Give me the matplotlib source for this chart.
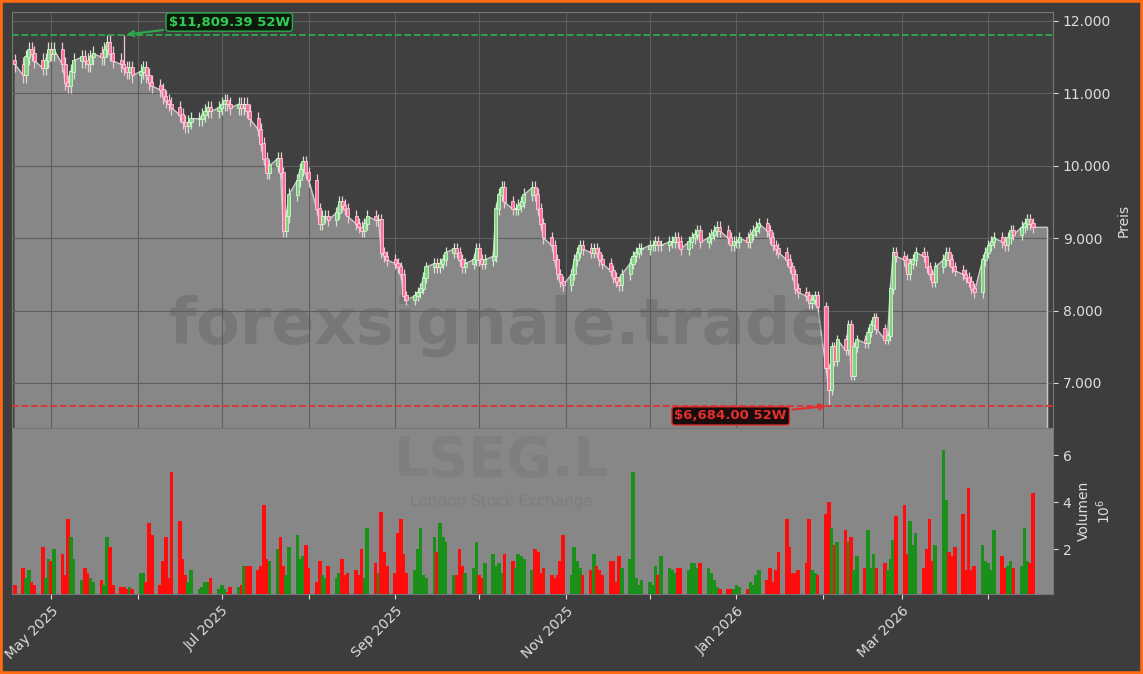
import numpy as np, pandas as pd, matplotlib
matplotlib.use("Agg")
import matplotlib.pyplot as plt
import matplotlib.dates as mdates
from matplotlib.ticker import FuncFormatter
from matplotlib.patches import Rectangle

close = [11400,11250,11500,11600,11550,11450,11350,11450,11600,
 11550,11600,11400,11150,11100,11300,11450,11500,11450,11400,11500,11550,11500,11600,11700,11550,11450,11400,11350,11300,11350,11250,
 11300,11350,11250,11150,11100,11050,10950,10900,10850,10800,10700,10600,10550,10600,10650,10650,10700,10750,10800,10750,10800,
 10850,10900,10850,10800,10850,10800,10850,10750,10650,10500,10300,10100,9900,10000,10100,9900,9100,9300,9600,9800,9950,10050,9900,
 9800,9400,9200,9300,9300,9250,9350,9500,9450,9400,9300,9200,9150,9100,9200,9300,9250,9250,8800,8750,8700,
 8650,8600,8500,8200,8150,8200,8250,8300,8450,8600,8650,8600,8650,8700,8800,8850,8800,8700,8600,8650,8700,8850,
 8700,8650,8700,8750,9400,9600,9700,9500,9400,9400,9450,9500,9600,9700,9600,9400,9200,9000,8900,8700,8500,8400,8350,
 8500,8700,8800,8900,8850,8800,8850,8800,8700,8650,8550,8450,8400,8350,8500,8650,8750,8800,8850,8850,
 8900,8900,8950,8900,8900,8950,8950,9000,8950,8850,8950,9000,9050,9100,8950,9000,9050,9100,9150,9100,9000,8900,8950,
 8950,9000,8950,9050,9100,9150,9200,9100,9000,8900,8850,8800,8700,8600,8500,8300,8250,8200,8100,8150,8200,8050,
 7200,6900,7500,7300,7600,7450,7800,7100,7500,7600,7550,7700,7800,7900,7750,7600,7650,8300,8800,8750,
 8700,8500,8650,8700,8800,8750,8600,8500,8400,8600,8700,8800,8700,8600,8550,8500,8450,8400,8300,8250,8700,8800,
 8900,8950,9000,8950,8900,9000,9100,9050,9150,9200,9250,9200,9150]

volume = [0.5,1.2,0.8,1.1,0.6,0.5,2.1,0.8,1.6,
 1.5,2.0,1.8,0.9,3.3,2.5,1.6,0.7,1.2,1.0,0.8,0.6,0.7,0.5,2.5,2.1,0.5,0.4,0.4,0.3,0.4,0.3,
 1.0,1.0,0.6,3.1,2.6,0.5,1.5,2.5,0.8,5.3,3.2,1.6,0.9,0.6,1.1,0.3,0.4,0.6,0.6,0.8,0.3,
 0.5,0.3,0.2,0.4,0.4,0.5,1.3,1.3,1.3,1.1,1.3,3.9,1.6,1.5,2.0,2.5,1.3,0.9,2.1,2.6,1.6,1.7,2.2,
 1.2,0.6,1.5,0.9,0.8,1.3,0.8,1.0,1.6,0.9,1.0,1.1,0.9,2.0,0.8,2.9,1.4,1.0,3.6,1.9,1.3,
 1.0,2.7,3.3,1.8,1.0,1.1,2.0,2.9,0.9,0.8,2.5,1.9,3.1,2.5,2.3,0.9,0.9,2.0,1.3,1.0,1.2,2.3,
 0.9,0.8,1.4,1.8,1.3,1.4,1.0,1.8,1.5,1.2,1.8,1.7,1.6,1.1,2.0,1.9,1.0,1.2,0.9,0.8,0.9,1.5,2.6,
 0.9,2.1,1.5,1.2,0.9,1.1,1.8,1.3,1.1,0.9,1.5,1.5,0.6,1.7,1.2,1.6,5.3,0.8,0.5,0.7,
 0.6,0.5,1.3,0.9,1.7,1.2,1.1,1.0,1.2,1.2,1.1,1.4,1.4,1.2,1.4,1.2,1.0,0.7,0.4,0.3,0.3,0.3,0.3,
 0.5,0.4,0.3,0.6,0.5,0.9,1.1,0.7,1.2,0.6,1.1,1.9,3.3,2.1,1.0,1.0,1.1,1.4,3.3,1.1,1.0,0.9,
 3.5,4.0,2.9,2.2,2.3,2.8,2.3,2.5,1.1,1.7,1.2,2.8,1.2,1.8,1.2,1.4,1.1,1.6,2.4,3.4,
 3.9,1.8,3.2,2.2,2.7,1.2,2.0,3.3,1.5,2.2,6.2,4.1,1.9,1.7,2.1,3.5,1.1,4.6,1.1,1.3,2.2,1.5,
 1.4,1.1,2.8,1.7,1.2,1.3,1.5,1.2,1.3,2.9,1.5,1.4,4.4]

high52 = 11809.39
low52 = 6684.00

n = min(len(close), len(volume))
close = np.array(close[:n], float); vol = np.array(volume[:n], float)
dates = pd.bdate_range("2025-04-18", periods=n)
x = mdates.date2num(dates)
opn = np.r_[close[0]*1.004, close[:-1]]
hi = np.maximum(opn, close)*1.009
lo = np.minimum(opn, close)*0.991
ih = 27
hi[ih] = high52
im = int(np.argmin(close))
lo[im] = low52

BG = "#3d3d3d"
fig = plt.figure(figsize=(11.43, 6.74), dpi=100, facecolor=BG)
fig.patches.append(Rectangle((0,0),1,1,transform=fig.transFigure,fill=False,edgecolor="#ff6a13",lw=4))
W, H = 1143, 674
L, R = 12/W, 1053/W
ax = fig.add_axes([L, 1-428/H, R-L, (428-12)/H])
av = fig.add_axes([L, 1-594/H, R-L, (594-428)/H], sharex=ax)
ax.set_facecolor("#404040"); av.set_facecolor("#878787")

ybot, ytop = 6378, 12124
ext = np.r_[x, x[-1]+5]
ax.fill_between(ext, np.r_[close, close[-1]], ybot, color="#8a8a8a", alpha=0.97, zorder=1)
ax.plot(ext, np.r_[close, close[-1]], color="#c8c8c8", lw=1, zorder=2)
ax.vlines(x[-1]+5, ybot, close[-1], color="#c8c8c8", lw=1, zorder=2)
up = close >= opn
ax.vlines(x, lo, hi, color=np.where(up, "#c8ecc8", "#f4c4d2"), lw=0.9, zorder=3)
ax.bar(x, np.abs(close-opn)+10, bottom=np.minimum(opn, close), width=1.1,
       color=np.where(up, "#7fd67f", "#ff6f9a"), edgecolor=np.where(up, "#e0ffe0", "#ffe0ea"), lw=0.5, zorder=4)
ax.axhline(high52, color="#2eaa4e", ls="--", lw=1.3, zorder=5)
ax.axhline(low52, color="#e03030", ls="--", lw=1.3, zorder=5)
ax.annotate(f"${high52:,.2f} 52W", xy=(x[ih], high52), xytext=(x[ih]+16, 11985),
            color="#33cc55", fontsize=9.5, fontweight="bold", ha="left", va="center",
            bbox=dict(boxstyle="round,pad=0.2", fc="#0c1a0c", ec="#2eaa4e"),
            arrowprops=dict(arrowstyle="->", color="#2eaa4e", lw=1.5), zorder=6)
ax.annotate(f"${low52:,.2f} 52W", xy=(x[im], low52), xytext=(x[im]-15, 6545),
            color="#e03030", fontsize=9.5, fontweight="bold", ha="right", va="center",
            bbox=dict(boxstyle="round,pad=0.2", fc="#1a0c0c", ec="#e03030"),
            arrowprops=dict(arrowstyle="->", color="#e03030", lw=1.5), zorder=6)
ax.text(0.47, 0.245, "forexsignale.trade", transform=ax.transAxes, ha="center", va="center",
        fontsize=46, fontweight="bold", color="#5a5a5a", alpha=0.35, zorder=2)
ax.set_ylim(ybot, ytop)
ax.set_xlim(x[0]-1, x[0]-1 + (x[-1]+5 - x[0]+1)*1041/1035)
ax.yaxis.tick_right(); ax.yaxis.set_label_position("right")
ax.set_ylabel("Preis", color="#dddddd", fontsize=10)
ax.yaxis.set_major_formatter(FuncFormatter(lambda v, p: f"{v:,.0f}".replace(",", ".")))
ax.grid(True, color="#5e5e5e", lw=0.8, zorder=0)
ax.tick_params(colors="#dddddd", labelsize=10, labelbottom=False)
for s in ax.spines.values(): s.set_color("#777777")

vcol = np.where(up, "#1a8f1a", "#ff0d0d")
av.bar(x, vol, width=1.3, color=vcol, zorder=3)
av.set_ylim(0.1, 7.15)
av.yaxis.tick_right(); av.yaxis.set_label_position("right")
av.set_ylabel("Volumen\n10$^6$", color="#dddddd", fontsize=10)
av.set_yticks([2, 4, 6])
av.text(0.47, 0.8, "LSEG.L", transform=av.transAxes, ha="center", va="center",
        fontsize=40, fontweight="bold", color="#7a7a7a", alpha=0.6, zorder=1)
av.text(0.47, 0.56, "London Stock Exchange", transform=av.transAxes, ha="center", va="center",
        fontsize=11, color="#7a7a7a", alpha=0.7, zorder=1)
av.xaxis.set_major_locator(mdates.MonthLocator())
av.xaxis.set_major_formatter(FuncFormatter(lambda v, p: mdates.num2date(v).strftime("%b %Y") if mdates.num2date(v).month % 2 == 1 else ""))
av.tick_params(colors="#dddddd", labelsize=10)
plt.setp(av.get_xticklabels(), rotation=45, ha="right", rotation_mode="anchor")
for s in av.spines.values(): s.set_color("#777777")
fig.savefig("out.png", dpi=100, facecolor=BG)
